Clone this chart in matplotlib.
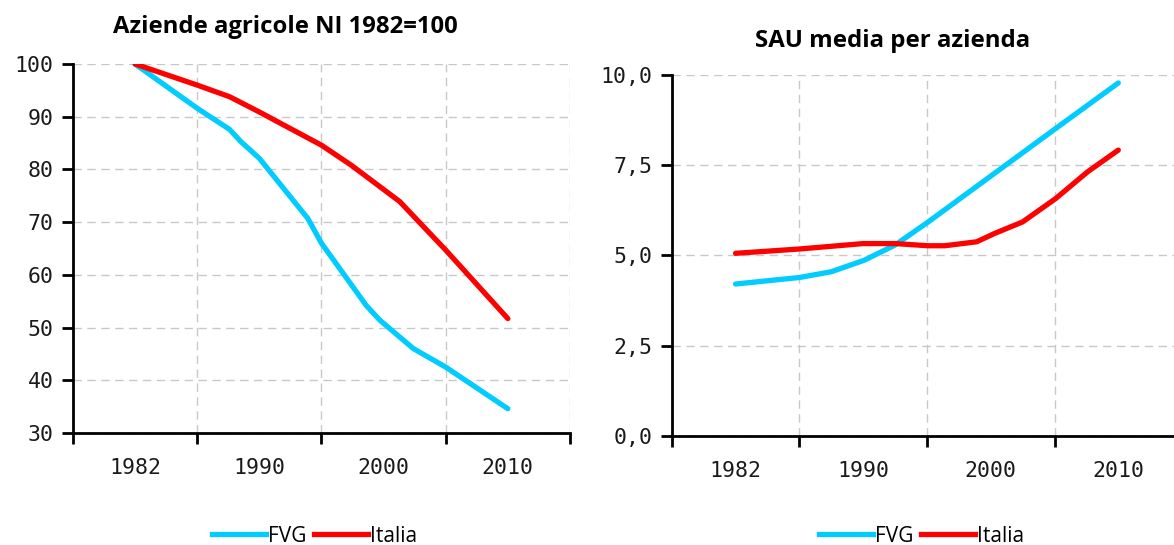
import numpy as np
import matplotlib
matplotlib.use("Agg")
import matplotlib.pyplot as plt
from matplotlib.lines import Line2D

# Category labels on the x axis (one category per census)
years = ["1982", "1990", "2000", "2010"]

# Aziende agricole, index 1982=100 (x in category units)
az_fvg_x = [0, 0.5, 0.76, 0.85, 1.0, 1.13, 1.39, 1.5, 1.86, 1.97, 2.24, 2.5, 3.0]
az_fvg_y = [100, 91.6, 87.6, 85.3, 82.1, 78.3, 70.7, 66.0, 54.2, 51.4, 46.0, 42.5, 34.6]
az_ita_x = [0, 0.5, 0.76, 1.0, 1.5, 1.74, 2.13, 2.5, 3.0]
az_ita_y = [100, 96.0, 93.8, 90.9, 84.6, 80.8, 73.9, 64.7, 51.7]

# SAU media per azienda (ettari)
sau_fvg_x = [0, 0.5, 0.75, 1.01, 1.25, 1.51, 2.51, 3.0]
sau_fvg_y = [4.21, 4.39, 4.55, 4.87, 5.29, 5.93, 8.52, 9.78]
sau_ita_x = [0, 0.5, 1.0, 1.25, 1.51, 1.64, 1.89, 2.03, 2.25, 2.51, 2.76, 3.0]
sau_ita_y = [5.06, 5.18, 5.33, 5.33, 5.27, 5.27, 5.38, 5.61, 5.93, 6.58, 7.32, 7.92]

FVG_COLOR = "#00CCFF"
ITA_COLOR = "#FF0000"
TICK_FONT = ["DejaVu Sans Mono"]
TITLE_FONT = ["Open Sans", "DejaVu Sans"]

fig = plt.figure(figsize=(11.74, 5.45), dpi=100)
ax1 = fig.add_axes([0.0622, 0.2055, 0.4233, 0.677])
ax2 = fig.add_axes([0.5722, 0.2, 0.4347, 0.6624])


def style_axis(ax, yticks, ylabels):
    ax.set_xlim(-0.5, 3.5)
    ax.set_xticks(np.arange(-0.5, 3.6, 1))
    ax.set_xticklabels([])
    ax.set_xticks(range(len(years)), minor=True)
    ax.set_xticklabels(years, minor=True, fontfamily=TICK_FONT, fontsize=15.5, color="#1a1a1a")
    ax.tick_params(axis="x", which="major", length=8, width=2, direction="out")
    ax.tick_params(axis="x", which="minor", length=0, pad=18)
    ax.set_yticks(yticks)
    ax.set_yticklabels(ylabels, fontfamily=TICK_FONT, fontsize=15.5, color="#1a1a1a")
    ax.tick_params(axis="y", length=8, width=2, pad=6)
    ax.grid(True, which="major", color="#c8c8c8", linestyle=(0, (6, 4)), linewidth=1)
    for s in ["top", "right"]:
        ax.spines[s].set_visible(False)
    for s in ["left", "bottom"]:
        ax.spines[s].set_linewidth(2)


ax1.plot(az_fvg_x, az_fvg_y, color=FVG_COLOR, lw=3.8, solid_capstyle="round", solid_joinstyle="round")
ax1.plot(az_ita_x, az_ita_y, color=ITA_COLOR, lw=3.8, solid_capstyle="round", solid_joinstyle="round")
ax1.set_ylim(30, 100)
style_axis(ax1, range(30, 101, 10), [str(v) for v in range(30, 101, 10)])

ax2.plot(sau_fvg_x, sau_fvg_y, color=FVG_COLOR, lw=3.8, solid_capstyle="round", solid_joinstyle="round")
ax2.plot(sau_ita_x, sau_ita_y, color=ITA_COLOR, lw=3.8, solid_capstyle="round", solid_joinstyle="round")
ax2.set_ylim(0, 10)
sau_ticks = [0, 2.5, 5, 7.5, 10]
style_axis(ax2, sau_ticks, [f"{v:.1f}".replace(".", ",") for v in sau_ticks])

fig.text(0.243, 0.950, "Aziende agricole NI 1982=100", ha="center", va="center",
         fontfamily=TITLE_FONT, fontweight="bold", fontsize=17.2)
fig.text(0.760, 0.925, "SAU media per azienda", ha="center", va="center",
         fontfamily=TITLE_FONT, fontweight="bold", fontsize=17.3)

handles = [Line2D([], [], color=FVG_COLOR, lw=3.8), Line2D([], [], color=ITA_COLOR, lw=3.8)]
for cx in (0.268, 0.785):
    fig.legend(handles, ["FVG", "Italia"], loc="center", bbox_to_anchor=(cx, 0.016), ncol=2,
               frameon=False, handlelength=2.6, handletextpad=0.1, columnspacing=0.35,
               prop={"family": TITLE_FONT, "size": 15})

fig.savefig("out.png", dpi=100)
